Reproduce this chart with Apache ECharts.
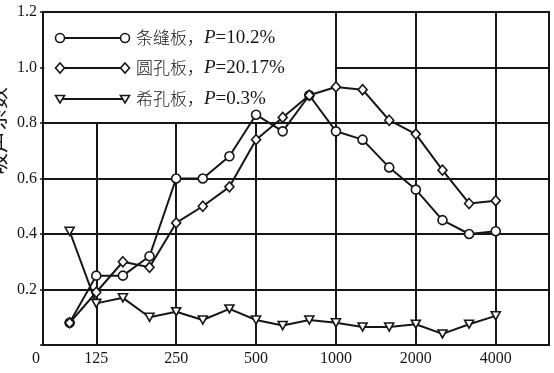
<!DOCTYPE html>
<html>
<head>
<meta charset="utf-8">
<script src="https://cdn.jsdelivr.net/npm/echarts@6/dist/echarts.min.js"></script>
<style>
html,body{margin:0;padding:0;background:#fff;}
#main{width:554px;height:373px;}
</style>
</head>
<body>
<div id="main"></div>
<script>
// ---- data ----
const freqs = ['100','125','160','200','250','315','400','500','630','800','1000','1250','1600','2000','2500','3150','4000'];
const xCategories = ['0'].concat(freqs, ['', ' ']);
const shownXLabels = ['0','125','250','500','1000','2000','4000'];
const slotPlate  = [0.08,0.25,0.25,0.32,0.60,0.60,0.68,0.83,0.77,0.90,0.77,0.74,0.64,0.56,0.45,0.40,0.41];
const roundPlate = [0.08,0.19,0.30,0.28,0.44,0.50,0.57,0.74,0.82,0.90,0.93,0.92,0.81,0.76,0.63,0.51,0.52];
const sparsePlate= [0.41,0.15,0.17,0.10,0.12,0.09,0.13,0.09,0.07,0.09,0.08,0.065,0.065,0.075,0.04,0.075,0.105];
const seriesNames = ['条缝板','圆孔板','希孔板'];
const porosities  = ['10.2%','20.17%','0.3%'];
const yMin = 0, yMax = 1.2, yStep = 0.2;
const yAxisTitle = '吸声系数';

const INK = '#161616';
const SERIF = '"Liberation Serif","DejaVu Serif",serif';
const CJK = '"Noto Sans CJK SC",sans-serif';

const chart = echarts.init(document.getElementById('main'), null, {renderer:'canvas'});

const markerDefs = [
  {symbol:'circle', size:9, rotate:0},
  {symbol:'diamond', size:[9,10], rotate:0},
  {symbol:'triangle', size:[9,8], rotate:180}
];
const allData = [slotPlate, roundPlate, sparsePlate];

const series = allData.map((vals, s) => ({
  name: seriesNames[s],
  type: 'line',
  data: freqs.map((f, i) => [f, vals[i]]),
  symbol: markerDefs[s].symbol,
  symbolSize: markerDefs[s].size,
  symbolRotate: markerDefs[s].rotate,
  showAllSymbol: true,
  z: 5,
  lineStyle: {color: INK, width: 2},
  itemStyle: {color: '#fff', borderColor: INK, borderWidth: 1.6},
  emphasis: {disabled: true},
  animation: false
}));

const option = {
  animation: false,
  backgroundColor: '#fff',
  grid: {left: 43, right: 5, top: 12, bottom: 28, show: true, borderColor: INK, borderWidth: 2, backgroundColor: 'transparent'},
  xAxis: {
    type: 'category',
    data: xCategories,
    boundaryGap: false,
    axisLine: {lineStyle: {color: INK, width: 2}},
    axisTick: {show: false},
    axisLabel: {
      interval: (idx, val) => shownXLabels.indexOf(val) >= 0,
      formatter: (val) => val === '0' ? '{z|0}' : val,
      rich: {z: {padding: [0, 14, 0, 0], fontFamily: SERIF, fontSize: 16, color: INK}},
      fontFamily: SERIF, fontSize: 16, color: INK, margin: 6
    },
    splitLine: {
      show: true,
      interval: (idx, val) => shownXLabels.indexOf(val) >= 0 && val !== '0',
      lineStyle: {color: INK, width: 2}
    }
  },
  yAxis: {
    type: 'value', min: yMin, max: yMax, interval: yStep,
    axisLine: {show: true, lineStyle: {color: INK, width: 2}},
    axisTick: {show: true, inside: false, length: 3, lineStyle: {color: INK, width: 1.5}},
    axisLabel: {
      formatter: v => v === 0 ? '' : v.toFixed(1),
      fontFamily: SERIF, fontSize: 16, color: INK, margin: 6
    },
    splitLine: {show: true, lineStyle: {color: INK, width: 2}}
  },
  series: series
};
chart.setOption(option);

// ---- legend box (white panel over grid, under series) ----
const gl = chart.convertToPixel({gridIndex: 0}, ['0', yMax]);
const p1000 = chart.convertToPixel({gridIndex: 0}, ['1000', 0.8]);
const graphics = [];
graphics.push({
  type: 'rect', z: 3,
  shape: {x: gl[0] + 1.2, y: gl[1] + 1, width: p1000[0] - gl[0] - 2.2, height: p1000[1] - gl[1] - 2},
  style: {fill: '#fff'}
});
const rowY = [38, 68, 99];
const lx0 = 60, lx1 = 125;
function markerEl(k, x, y) {
  const st = {fill: '#fff', stroke: INK, lineWidth: 1.6};
  if (k === 0) return {type: 'circle', z: 20, shape: {cx: x, cy: y, r: 4.5}, style: st};
  if (k === 1) return {type: 'polygon', z: 20, shape: {points: [[x, y - 5], [x + 4.5, y], [x, y + 5], [x - 4.5, y]]}, style: st};
  return {type: 'polygon', z: 20, shape: {points: [[x - 4.5, y - 3.5], [x + 4.5, y - 3.5], [x, y + 4]]}, style: st};
}
seriesNames.forEach((nm, k) => {
  const y = rowY[k];
  graphics.push({type: 'line', z: 19, shape: {x1: lx0, y1: y, x2: lx1, y2: y}, style: {stroke: INK, lineWidth: 2}});
  graphics.push(markerEl(k, lx0, y));
  graphics.push(markerEl(k, lx1, y));
  graphics.push({
    type: 'text', z: 20, x: 136, y: y,
    style: {
      text: '{c|' + nm + '，}{p|P}{n|=' + porosities[k] + '}',
      verticalAlign: 'middle', align: 'left',
      rich: {
        c: {fontFamily: CJK, fontSize: 17, fill: INK, fontWeight: 300},
        p: {fontFamily: SERIF, fontSize: 19, fontStyle: 'italic', fill: INK},
        n: {fontFamily: SERIF, fontSize: 19, fill: INK}
      }
    }
  });
});
// partially visible y-axis title at the left edge
graphics.push({
  type: 'text', z: 20, x: -3, y: 131, rotation: Math.PI / 2,
  style: {text: yAxisTitle, fontFamily: CJK, fontSize: 22, fill: INK, align: 'center', verticalAlign: 'middle'}
});
chart.setOption({graphic: graphics});
</script>
</body>
</html>
